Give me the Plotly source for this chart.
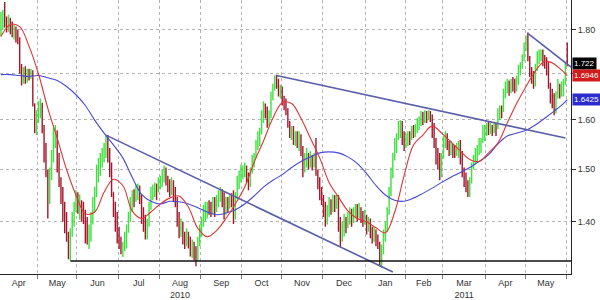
import math
import pandas as pd
import plotly.graph_objects as go

# ---------------- data ----------------
# trading days, Apr 5 2010 .. Jun 3 2011 (bars centred at noon)
dates = pd.bdate_range("2010-04-05", "2011-06-03") + pd.Timedelta(hours=12)

open_ = [1.793,1.812,1.835,1.819,1.805,1.823,1.800,1.793,1.805,1.782,
1.777,1.710,1.684,1.699,1.688,1.701,1.692,1.705,1.634,1.593,
1.603,1.628,1.634,1.583,1.552,1.493,1.437,1.484,1.522,1.562,
1.572,1.522,1.474,1.455,1.427,1.400,1.373,1.342,1.382,1.409,
1.427,1.446,1.427,1.437,1.427,1.418,1.382,1.370,1.377,1.409,
1.437,1.455,1.484,1.513,1.519,1.532,1.542,1.558,1.522,1.503,
1.455,1.427,1.406,1.377,1.364,1.352,1.359,1.373,1.388,1.409,
1.437,1.451,1.446,1.461,1.465,1.446,1.418,1.400,1.388,1.400,
1.427,1.450,1.455,1.465,1.459,1.474,1.480,1.487,1.499,1.484,
1.468,1.461,1.474,1.450,1.437,1.406,1.388,1.395,1.373,1.359,
1.377,1.364,1.347,1.356,1.342,1.335,1.364,1.382,1.400,1.418,
1.424,1.431,1.424,1.418,1.437,1.427,1.442,1.450,1.455,1.446,
1.418,1.437,1.431,1.440,1.437,1.406,1.446,1.474,1.487,1.493,
1.499,1.503,1.487,1.468,1.493,1.519,1.526,1.546,1.562,1.572,
1.603,1.628,1.620,1.599,1.607,1.645,1.666,1.688,1.684,1.662,
1.666,1.645,1.634,1.620,1.593,1.572,1.583,1.562,1.566,1.558,
1.568,1.542,1.503,1.522,1.526,1.513,1.522,1.507,1.522,1.493,
1.474,1.455,1.446,1.424,1.400,1.418,1.437,1.427,1.442,1.437,
1.446,1.400,1.373,1.388,1.400,1.395,1.409,1.418,1.406,1.413,
1.424,1.418,1.424,1.413,1.406,1.409,1.391,1.400,1.382,1.373,
1.382,1.370,1.359,1.335,1.347,1.373,1.391,1.418,1.450,1.484,
1.519,1.542,1.562,1.583,1.593,1.562,1.552,1.562,1.568,1.562,
1.576,1.566,1.583,1.593,1.599,1.607,1.603,1.613,1.609,1.616,
1.607,1.583,1.552,1.522,1.513,1.493,1.522,1.552,1.566,1.552,
1.542,1.548,1.538,1.532,1.546,1.552,1.532,1.499,1.484,1.468,
1.455,1.474,1.503,1.519,1.526,1.542,1.552,1.556,1.572,1.583,
1.587,1.578,1.583,1.576,1.587,1.583,1.607,1.624,1.618,1.649,
1.671,1.677,1.666,1.677,1.671,1.666,1.677,1.705,1.714,1.732,
1.754,1.777,1.736,1.710,1.688,1.677,1.710,1.736,1.743,1.750,
1.736,1.727,1.710,1.677,1.656,1.645,1.624,1.649,1.666,1.662,
1.671,1.677,1.739]

high = [1.842,1.847,1.866,1.831,1.835,1.828,1.819,1.812,1.807,1.800,
1.782,1.721,1.714,1.716,1.710,1.710,1.710,1.707,1.634,1.620,
1.639,1.645,1.636,1.589,1.552,1.499,1.503,1.538,1.583,1.589,
1.578,1.532,1.484,1.465,1.437,1.418,1.382,1.388,1.418,1.437,
1.459,1.455,1.451,1.440,1.437,1.422,1.409,1.395,1.418,1.446,
1.465,1.509,1.522,1.532,1.542,1.552,1.566,1.568,1.542,1.513,
1.455,1.437,1.418,1.391,1.373,1.364,1.382,1.395,1.418,1.446,
1.459,1.461,1.470,1.472,1.468,1.450,1.427,1.413,1.406,1.437,
1.465,1.470,1.474,1.472,1.484,1.487,1.499,1.507,1.503,1.487,
1.480,1.484,1.478,1.465,1.446,1.418,1.406,1.400,1.382,1.388,
1.382,1.373,1.368,1.364,1.356,1.373,1.395,1.409,1.431,1.437,
1.437,1.440,1.437,1.446,1.446,1.450,1.459,1.465,1.461,1.455,
1.446,1.446,1.450,1.453,1.459,1.455,1.487,1.497,1.509,1.507,
1.513,1.507,1.493,1.503,1.528,1.532,1.558,1.576,1.583,1.620,
1.639,1.634,1.628,1.620,1.660,1.677,1.695,1.697,1.688,1.675,
1.671,1.651,1.645,1.624,1.597,1.587,1.587,1.576,1.576,1.576,
1.570,1.546,1.532,1.542,1.532,1.536,1.528,1.532,1.562,1.499,
1.484,1.465,1.450,1.437,1.431,1.446,1.442,1.451,1.450,1.451,
1.450,1.409,1.400,1.415,1.409,1.418,1.427,1.424,1.427,1.433,
1.433,1.435,1.427,1.420,1.422,1.413,1.409,1.406,1.391,1.391,
1.386,1.377,1.364,1.359,1.386,1.400,1.427,1.465,1.503,1.532,
1.562,1.572,1.597,1.599,1.597,1.576,1.572,1.576,1.576,1.587,
1.589,1.591,1.603,1.607,1.618,1.616,1.620,1.618,1.620,1.618,
1.611,1.593,1.562,1.542,1.532,1.532,1.566,1.576,1.572,1.556,
1.556,1.550,1.548,1.552,1.556,1.558,1.536,1.503,1.493,1.478,
1.484,1.513,1.528,1.542,1.548,1.562,1.562,1.589,1.589,1.593,
1.597,1.593,1.589,1.593,1.593,1.624,1.630,1.630,1.666,1.682,
1.688,1.684,1.688,1.692,1.688,1.695,1.719,1.725,1.743,1.770,
1.786,1.793,1.739,1.714,1.705,1.721,1.750,1.754,1.754,1.754,
1.741,1.736,1.725,1.679,1.666,1.656,1.660,1.688,1.677,1.682,
1.688,1.725,1.770]

low = [1.784,1.800,1.805,1.793,1.795,1.789,1.782,1.777,1.770,1.766,
1.699,1.673,1.677,1.677,1.679,1.684,1.688,1.628,1.572,1.568,
1.593,1.603,1.572,1.513,1.484,1.406,1.433,1.478,1.513,1.542,
1.493,1.465,1.433,1.400,1.379,1.364,1.333,1.331,1.373,1.391,
1.418,1.415,1.404,1.400,1.396,1.361,1.359,1.351,1.364,1.395,
1.418,1.446,1.474,1.487,1.503,1.513,1.522,1.513,1.484,1.446,
1.409,1.382,1.361,1.351,1.342,1.337,1.347,1.352,1.380,1.400,
1.418,1.427,1.437,1.440,1.433,1.396,1.382,1.368,1.368,1.391,
1.422,1.440,1.446,1.440,1.455,1.461,1.465,1.474,1.468,1.455,
1.446,1.450,1.437,1.427,1.391,1.370,1.373,1.359,1.351,1.356,
1.352,1.338,1.335,1.331,1.321,1.330,1.356,1.373,1.391,1.400,
1.406,1.413,1.409,1.413,1.409,1.418,1.427,1.437,1.427,1.404,
1.413,1.418,1.424,1.427,1.396,1.404,1.442,1.461,1.474,1.480,
1.484,1.474,1.459,1.465,1.491,1.503,1.522,1.538,1.546,1.570,
1.593,1.603,1.583,1.587,1.603,1.641,1.662,1.666,1.649,1.645,
1.630,1.620,1.609,1.583,1.562,1.558,1.548,1.546,1.542,1.536,
1.526,1.484,1.493,1.503,1.499,1.503,1.497,1.503,1.487,1.461,
1.440,1.431,1.409,1.391,1.395,1.409,1.413,1.418,1.418,1.424,
1.382,1.356,1.364,1.373,1.379,1.388,1.395,1.391,1.398,1.406,
1.400,1.406,1.398,1.391,1.395,1.377,1.382,1.370,1.361,1.364,
1.356,1.351,1.321,1.318,1.342,1.364,1.382,1.413,1.448,1.482,
1.517,1.532,1.558,1.562,1.548,1.536,1.542,1.546,1.548,1.558,
1.562,1.564,1.572,1.578,1.587,1.589,1.593,1.593,1.599,1.595,
1.562,1.542,1.509,1.499,1.478,1.484,1.521,1.542,1.538,1.526,
1.528,1.522,1.522,1.526,1.522,1.509,1.484,1.465,1.455,1.446,
1.446,1.472,1.499,1.509,1.513,1.528,1.532,1.552,1.556,1.566,
1.568,1.570,1.566,1.572,1.566,1.580,1.599,1.603,1.616,1.645,
1.656,1.651,1.656,1.660,1.656,1.660,1.675,1.695,1.710,1.727,
1.750,1.727,1.692,1.677,1.666,1.671,1.705,1.721,1.727,1.716,
1.710,1.695,1.666,1.634,1.624,1.609,1.613,1.645,1.645,1.649,
1.649,1.675,1.716]

close = [1.812,1.835,1.819,1.805,1.823,1.800,1.793,1.805,1.782,1.777,
1.710,1.684,1.699,1.688,1.701,1.692,1.705,1.634,1.593,1.603,
1.628,1.634,1.583,1.552,1.493,1.437,1.484,1.522,1.562,1.572,
1.522,1.474,1.455,1.427,1.400,1.373,1.342,1.382,1.409,1.427,
1.446,1.427,1.437,1.427,1.418,1.382,1.370,1.377,1.409,1.437,
1.455,1.484,1.513,1.519,1.532,1.542,1.558,1.522,1.503,1.455,
1.427,1.406,1.377,1.364,1.352,1.359,1.373,1.388,1.409,1.437,
1.451,1.446,1.461,1.465,1.446,1.418,1.400,1.388,1.400,1.427,
1.450,1.455,1.465,1.459,1.474,1.480,1.487,1.499,1.484,1.468,
1.461,1.474,1.450,1.437,1.406,1.388,1.395,1.373,1.359,1.377,
1.364,1.347,1.356,1.342,1.335,1.364,1.382,1.400,1.418,1.424,
1.431,1.424,1.418,1.437,1.427,1.442,1.450,1.455,1.446,1.418,
1.437,1.431,1.440,1.437,1.406,1.446,1.474,1.487,1.493,1.499,
1.503,1.487,1.468,1.493,1.519,1.526,1.546,1.562,1.572,1.603,
1.628,1.620,1.599,1.607,1.645,1.666,1.688,1.684,1.662,1.666,
1.645,1.634,1.620,1.593,1.572,1.583,1.562,1.566,1.558,1.568,
1.542,1.503,1.522,1.526,1.513,1.522,1.507,1.522,1.493,1.474,
1.455,1.446,1.424,1.400,1.418,1.437,1.427,1.442,1.437,1.446,
1.400,1.373,1.388,1.400,1.395,1.409,1.418,1.406,1.413,1.424,
1.418,1.424,1.413,1.406,1.409,1.391,1.400,1.382,1.373,1.382,
1.370,1.359,1.335,1.347,1.373,1.391,1.418,1.450,1.484,1.519,
1.542,1.562,1.583,1.593,1.562,1.552,1.562,1.568,1.562,1.576,
1.566,1.583,1.593,1.599,1.607,1.603,1.613,1.609,1.616,1.607,
1.583,1.552,1.522,1.513,1.493,1.522,1.552,1.566,1.552,1.542,
1.548,1.538,1.532,1.546,1.552,1.532,1.499,1.484,1.468,1.455,
1.474,1.503,1.519,1.526,1.542,1.552,1.556,1.572,1.583,1.587,
1.578,1.583,1.576,1.587,1.583,1.607,1.624,1.618,1.649,1.671,
1.677,1.666,1.677,1.671,1.666,1.677,1.705,1.714,1.732,1.754,
1.777,1.736,1.710,1.688,1.677,1.710,1.736,1.743,1.750,1.736,
1.727,1.710,1.677,1.656,1.645,1.624,1.649,1.666,1.662,1.671,
1.677,1.714,1.722]

# moving averages read every 5th trading day (plus the last day)
ma_fast = [1.784,1.812,1.807,1.761,1.699,1.624,1.562,1.499,1.450,1.415,
1.418,1.455,1.480,1.468,1.420,1.406,1.418,1.433,1.444,1.448,
1.427,1.388,1.373,1.384,1.406,1.433,1.465,1.513,1.556,1.603,
1.636,1.634,1.603,1.562,1.522,1.474,1.446,1.420,1.406,1.400,
1.389,1.380,1.418,1.487,1.548,1.568,1.587,1.572,1.554,1.536,
1.519,1.515,1.532,1.552,1.593,1.634,1.671,1.705,1.727,1.721,
1.703,1.6946]
ma_slow = [1.697,1.697,1.695,1.693,1.695,1.690,1.684,1.671,1.653,1.630,
1.599,1.572,1.548,1.522,1.484,1.451,1.438,1.433,1.438,1.437,
1.433,1.426,1.418,1.413,1.416,1.422,1.433,1.448,1.465,1.478,
1.489,1.503,1.515,1.524,1.532,1.534,1.532,1.524,1.511,1.491,
1.468,1.450,1.440,1.438,1.444,1.453,1.463,1.474,1.484,1.493,
1.503,1.515,1.528,1.550,1.566,1.572,1.578,1.589,1.603,1.618,
1.634,1.6425]

# trend lines: (trading-day index, value) pairs
trend_a_idx, trend_a_val = [56, 209], [1.568, 1.311]
trend_b_idx, trend_b_val = [147, 301], [1.695, 1.562]
trend_c_idx, trend_c_val = [281, 304], [1.791, 1.714]
support_idx, support_val = [37, 304], [1.330, 1.330]

last_labels = [("1.722", 1.722, "#000000"),
               ("1.6946", 1.6946, "#d01c1c"),
               ("1.6425", 1.6425, "#2b2bd0")]

y_ticks = [1.40, 1.50, 1.60, 1.70, 1.80]
y_ticktext = ["1.40", "1.50", "1.60", "", "1.80"]   # 1.70 is hidden under the price tags
month_text = ["Apr", "May", "Jun", "Jul", "Aug<br>2010", "Sep", "Oct", "Nov",
              "Dec", "Jan", "Feb", "Mar<br>2011", "Apr", "May"]

# ---------------- figure ----------------
n = len(close)
bar_x = dates[:n]
ma_pos = list(range(0, 301, 5)) + [302]
ma_x = [dates[i] for i in ma_pos]

s = pd.Series(dates)
groups = s.groupby(s.dt.to_period("M"))
month_starts = [g.iloc[0].normalize() for _, g in groups][1:]
label_pos = []
for _, g in groups:
    m = len(g)
    label_pos.append(g.iloc[m // 2] if m % 2 else g.iloc[m // 2].normalize())
label_pos = label_pos[:len(month_text)]

x_range = [dates[0].normalize(), dates[-1]]
breaks = [dict(bounds=["sat", "mon"])]

fig = go.Figure()
fig.add_trace(go.Ohlc(
    x=bar_x, open=open_, high=high, low=low, close=close,
    increasing=dict(line=dict(color="#3fe03f", width=1.4)),
    decreasing=dict(line=dict(color="#a3172b", width=1.4)),
    tickwidth=0.2, hoverinfo="skip"))

fig.add_trace(go.Scatter(x=ma_x, y=ma_slow, mode="lines",
                         line=dict(color="#4848d8", width=1.1, shape="spline", smoothing=1.0)))
fig.add_trace(go.Scatter(x=ma_x, y=ma_fast, mode="lines",
                         line=dict(color="#e23434", width=1.1, shape="spline", smoothing=1.0)))

for idx, val in [(trend_a_idx, trend_a_val), (trend_b_idx, trend_b_val), (trend_c_idx, trend_c_val)]:
    fig.add_trace(go.Scatter(x=[dates[i] for i in idx], y=val, mode="lines",
                             line=dict(color="#5b5ea8", width=1.6)))

fig.add_trace(go.Scatter(x=[dates[i] for i in support_idx], y=support_val, mode="lines",
                         line=dict(color="#111111", width=1.6), xaxis="x2", yaxis="y"))

font = dict(family="Liberation Sans, Arial, sans-serif", size=9, color="#333333")
grid = dict(showgrid=True, gridcolor="#b4b4b4", griddash="dot", gridwidth=1)

fig.update_layout(
    width=600, height=300,
    margin=dict(l=0, r=29, t=0, b=22),
    paper_bgcolor="white", plot_bgcolor="white",
    showlegend=False,
    xaxis=dict(type="date", range=x_range, rangebreaks=breaks,
               tickmode="array", tickvals=label_pos, ticktext=month_text,
               showgrid=False, ticks="", showline=True, linecolor="#222222",
               linewidth=1, zeroline=False, tickfont=font,
               rangeslider=dict(visible=False), fixedrange=True),
    xaxis2=dict(type="date", range=x_range, rangebreaks=breaks, overlaying="x",
                anchor="y", side="bottom", tickmode="array", tickvals=month_starts,
                ticktext=[""] * len(month_starts), ticks="outside", ticklen=4,
                tickcolor="#777777", showline=False, zeroline=False, **grid),
    yaxis=dict(type="log", side="right",
               range=[math.log10(1.3076), math.log10(1.871)],
               tickmode="array", tickvals=y_ticks, ticktext=y_ticktext,
               ticks="outside", ticklen=4, tickcolor="#333333",
               showline=True, linecolor="#222222", linewidth=1,
               zeroline=False, tickfont=font, **grid),
)

for txt, val, col in last_labels:
    fig.add_annotation(x=1.0, xref="paper", xanchor="left", xshift=1,
                       y=math.log10(val), yref="y", yanchor="middle",
                       text=txt, showarrow=False, bgcolor=col, borderpad=1,
                       font=dict(family="Liberation Sans, Arial, sans-serif", size=8, color="white"))

fig.write_html("out.html")
